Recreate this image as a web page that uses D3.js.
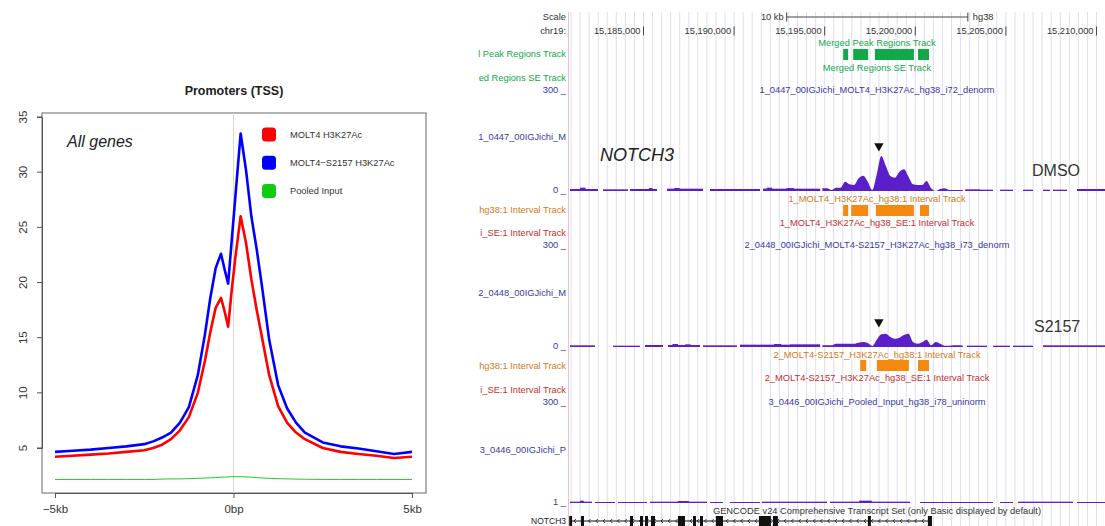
<!DOCTYPE html>
<html>
<head>
<meta charset="utf-8">
<script src="https://cdn.jsdelivr.net/npm/d3@7"></script>
<style>
body { margin: 0; background: #fff; }
svg { display: block; font-family: "Liberation Sans", Arial, sans-serif; }
</style>
</head>
<body>
<svg width="1105" height="526"></svg>
<script>
var svg = d3.select("svg");

// ---------- left: promoter (TSS) profile ----------
var binPos = [-5000,-4500,-4000,-3500,-3000,-2500,-2250,-2000,-1750,-1500,-1250,-1000,-800,-650,-500,-350,-250,-150,-50,50,200,350,500,650,800,1000,1250,1500,1750,2000,2500,3000,3500,4000,4500,5000];
var molt4 = [4.2,4.3,4.4,4.5,4.65,4.8,5.0,5.3,5.8,6.6,7.8,10.0,12.9,15.5,17.7,18.6,17.4,16.0,19.3,22.2,26.0,23.6,20.3,17.5,15.0,11.6,8.8,7.3,6.4,5.8,5.0,4.65,4.45,4.3,4.1,4.2];
var molt4S2157 = [4.65,4.75,4.85,5.0,5.15,5.35,5.6,5.95,6.4,7.3,8.7,11.6,15.3,18.6,21.3,22.6,21.2,19.9,23.8,27.7,33.5,30.2,26.0,23.0,19.6,14.8,10.7,8.6,7.3,6.4,5.5,5.15,4.95,4.7,4.45,4.65];
var pooledInput = [2.15,2.15,2.15,2.15,2.15,2.15,2.15,2.18,2.2,2.2,2.22,2.25,2.28,2.3,2.32,2.35,2.37,2.38,2.4,2.4,2.4,2.38,2.35,2.32,2.28,2.25,2.22,2.2,2.18,2.17,2.15,2.15,2.15,2.15,2.15,2.15];
var seriesNames = ["MOLT4 H3K27Ac", "MOLT4\u2212S2157 H3K27Ac", "Pooled Input"];
var seriesColors = ["#ff0000", "#0000ff", "#22cc22"];
var yTicks = [5, 10, 15, 20, 25, 30, 35];
var xTicks = [-5000, 0, 5000];
var xTickLabels = ["\u22125kb", "0bp", "5kb"];

var x = d3.scaleLinear().domain([-5000, 5000]).range([55, 412]);
var y = d3.scaleLinear().domain([5, 35]).range([448, 117]);
var boxL = x.invert(42), boxR = x.invert(426), boxT = y.invert(113), boxB = y.invert(493);

svg.append("text")
    .attr("x", 234).attr("y", 91).attr("dy", "0.35em")
    .attr("text-anchor", "middle")
    .style("font-size", "12.5px").style("font-weight", "bold").style("fill", "#222")
    .text("Promoters (TSS)");

svg.append("rect")
    .attr("x", x(boxL)).attr("y", y(boxT))
    .attr("width", x(boxR) - x(boxL)).attr("height", y(boxB) - y(boxT))
    .attr("fill", "none").attr("stroke", "#8a8a8a").attr("stroke-width", 1.3);

// TSS marker
svg.append("line")
    .attr("x1", x(0)).attr("x2", x(0)).attr("y1", y(boxT)).attr("y2", y(boxB))
    .attr("stroke", "#d8d8d8").attr("stroke-width", 1);

var yAxis = svg.append("g")
    .attr("transform", "translate(" + x(boxL) + ",0)")
    .call(d3.axisLeft(y).tickValues(yTicks).tickSize(5).tickPadding(4));
yAxis.selectAll(".tick").attr("transform", "translate(0,0)");
yAxis.selectAll(".tick line").attr("y1", function(d){ return y(d); }).attr("y2", function(d){ return y(d); });
yAxis.selectAll("text")
    .attr("transform", "rotate(-90)")
    .attr("x", function(d){ return -y(d); }).attr("y", -15).attr("dy", "0")
    .attr("text-anchor", "middle");

var xAxis = svg.append("g")
    .attr("transform", "translate(0," + y(boxB) + ")")
    .call(d3.axisBottom(x).tickValues(xTicks).tickSize(5).tickPadding(7)
        .tickFormat(function(d, i){ return xTickLabels[i]; }));

[yAxis, xAxis].forEach(function(a){
  a.select(".domain").attr("stroke", "#555");
  a.selectAll(".tick line").attr("stroke", "#555");
  a.selectAll("text").style("font-size", "11.5px").style("fill", "#333").style("font-family", "Liberation Sans, Arial, sans-serif");
});

var line = d3.line()
    .x(function(d, i){ return x(binPos[i]); })
    .y(function(d){ return y(d); });

svg.append("path").datum(pooledInput)
    .attr("d", line).attr("fill", "none")
    .attr("stroke", seriesColors[2]).attr("stroke-width", 1);
svg.append("path").datum(molt4)
    .attr("d", line).attr("fill", "none")
    .attr("stroke", seriesColors[0]).attr("stroke-width", 2.6).attr("stroke-linejoin", "round");
svg.append("path").datum(molt4S2157)
    .attr("d", line).attr("fill", "none")
    .attr("stroke", seriesColors[1]).attr("stroke-width", 2.6).attr("stroke-linejoin", "round");

svg.append("text")
    .attr("x", 67).attr("y", 141).attr("dy", "0.35em")
    .style("font-size", "16px").style("font-style", "italic").style("fill", "#222")
    .text("All genes");

var legend = svg.append("g").selectAll("g")
    .data(seriesNames).enter().append("g")
    .attr("transform", function(d, i){ return "translate(269," + (134.5 + i * 28.2) + ")"; });
legend.append("rect")
    .attr("x", -7).attr("y", -7).attr("width", 14).attr("height", 14).attr("rx", 3.5)
    .attr("fill", function(d, i){ return seriesColors[i] == "#22cc22" ? "#11cc11" : seriesColors[i]; });
legend.append("text")
    .attr("x", 21).attr("dy", "0.35em")
    .style("font-size", "9.3px").style("fill", "#333")
    .text(function(d){ return d; });

// ---------- right: genome browser view ----------
var viewStart = 15180944, viewEnd = 15210470;
var coordTicks = [15185000, 15190000, 15195000, 15200000, 15205000, 15210000];
var scaleBar = [15192900, 15202900];
var gridStep = 500;
var peakBinStart = 15194750, peakBinSize = 250;
var dmsoPeak = [8,8,3,10,10,28,20,18,38,46,28,3,50,105,75,45,40,58,65,43,20,18,18,30,8,0,6,8,3,3,3,3];
var s2157Peak = [5,5,5,10,10,10,10,10,13,15,12,3,22,38,40,30,25,28,36,40,15,10,14,22,5,15,10,4,4,5,5,4];
var dmsoBackground = [[15180944,15182489,6],[15181500,15181800,10],[15182765,15184145,5],[15184255,15185745,6],[15185300,15185500,9],[15186297,15188284,7],[15186700,15187000,9],[15188670,15191430,6],[15191595,15194750,7],[15191800,15192100,10],[15192900,15193300,9],
  [15202750,15203571,5],[15203571,15204289,4],[15204675,15205393,4],[15205945,15206497,4],[15207048,15207435,4],[15207600,15208373,4],[15208925,15210470,6]];
var s2157Background = [[15180944,15182320,5],[15183317,15184807,4],[15185083,15186076,6],[15186352,15188118,6],[15186600,15186900,9],[15187300,15187600,8],[15188284,15189057,5],[15189057,15190160,5],[15190326,15193085,7],[15192200,15192600,9],[15193085,15194750,8],
  [15202850,15203958,4],[15204289,15205227,4],[15205393,15206497,4],[15207048,15210470,5]];
var inputBackground = [[15180944,15182158,4],[15181500,15181700,7],[15182324,15183427,3],[15183593,15185193,3],[15185359,15188505,4],[15186900,15187500,6],[15188670,15189388,3],[15189774,15191430,3],[15191540,15193085,4],[15193085,15195127,4],[15195293,15199708,4],[15196900,15197600,7],[15200260,15204289,3],[15204675,15205393,3],[15205669,15208704,4],[15208925,15210470,3]];
var mergedPeaks = [[15196021,15196297],[15196573,15197401],[15197770,15199923],[15200150,15200757]];
var dmsoIntervals = [[15196021,15196297],[15196463,15197401],[15197825,15199923],[15200260,15200757]];
var s2157Intervals = [[15196960,15197290],[15197880,15199646],[15200150,15200757]];
var notch3Span = [15180944, 15200920];
var notch3Exons = [[15180900,15181060],[15181549,15181716],[15184255,15184421],[15184807,15184972],[15185083,15185248],[15185414,15185635],[15186904,15187290],[15187732,15187898],[15188118,15188284],[15188995,15189388],[15191369,15192031],[15192141,15192417],[15197384,15197550],[15200695,15200920]];
var summit = 15197990;

var gx = d3.scaleLinear().domain([viewStart, viewEnd]).range([570, 1105]);
var sig = d3.scaleLinear().domain([0, 300]).range([0, 100]);

var purple = "#5b1ecb", labelBlue = "#3b379f", green = "#12a84a", orange = "#f5880f",
    orangeText = "#d17a22", redText = "#c2302c";

function label(px, py, txt, color, anchor, size) {
  return svg.append("text")
      .attr("x", px).attr("y", py).attr("dy", "0.35em")
      .attr("text-anchor", anchor || "start")
      .style("font-size", (size || 9.3) + "px").style("fill", color)
      .text(txt);
}

// grid lines every 500bp
svg.append("g").selectAll("line")
    .data(d3.range(Math.ceil(viewStart / gridStep) * gridStep, viewEnd, gridStep))
    .enter().append("line")
    .attr("x1", function(d){ return gx(d); }).attr("x2", function(d){ return gx(d); })
    .attr("y1", 12).attr("y2", 526)
    .attr("stroke", "#dedef3").attr("stroke-width", 1);
svg.append("line")
    .attr("x1", 568.5).attr("x2", 568.5).attr("y1", 12).attr("y2", 526)
    .attr("stroke", "#f2c2c2").attr("stroke-width", 1);

// ruler
label(566, 17, "Scale", "#333", "end");
label(566, 31, "chr19:", "#333", "end");
label(gx(scaleBar[0]) - 3, 17, "10 kb", "#333", "end");
label(gx(scaleBar[1]) + 5, 17, "hg38", "#333", "start");
svg.append("line")
    .attr("x1", gx(scaleBar[0])).attr("x2", gx(scaleBar[1])).attr("y1", 17).attr("y2", 17)
    .attr("stroke", "#444");
svg.append("g").selectAll("line").data(scaleBar).enter().append("line")
    .attr("x1", function(d){ return gx(d); }).attr("x2", function(d){ return gx(d); })
    .attr("y1", 12.5).attr("y2", 21.5).attr("stroke", "#444");
var ct = svg.append("g").selectAll("g").data(coordTicks).enter().append("g");
ct.append("line")
    .attr("x1", function(d){ return gx(d); }).attr("x2", function(d){ return gx(d); })
    .attr("y1", 26.5).attr("y2", 35.5).attr("stroke", "#444");
ct.append("text")
    .attr("x", function(d){ return gx(d) - 3; }).attr("y", 31).attr("dy", "0.35em")
    .attr("text-anchor", "end").style("font-size", "9.3px").style("fill", "#333")
    .text(function(d){ return d3.format(",")(d); });

// merged region tracks
label(877, 43, "Merged Peak Regions Track", green, "middle");
label(877, 68, "Merged Regions SE Track", green, "middle");
label(566, 54, "l Peak Regions Track", green, "end");
label(566, 78, "ed Regions SE Track", green, "end");
svg.append("g").selectAll("rect").data(mergedPeaks).enter().append("rect")
    .attr("x", function(d){ return gx(d[0]); }).attr("width", function(d){ return gx(d[1]) - gx(d[0]); })
    .attr("y", 49).attr("height", 11).attr("fill", green);

function signalTrack(base, peak, background) {
  var g = svg.append("g");
  g.selectAll("rect").data(background).enter().append("rect")
      .attr("x", function(d){ return gx(d[0]); })
      .attr("width", function(d){ return gx(d[1]) - gx(d[0]); })
      .attr("y", function(d){ return base - sig(d[2]); })
      .attr("height", function(d){ return sig(d[2]); })
      .attr("fill", purple);
  if (!peak.length) return;
  var area = d3.area()
      .x(function(d, i){ return gx(peakBinStart + (i + 0.5) * peakBinSize); })
      .y0(base)
      .y1(function(d){ return base - sig(d); })
      .curve(d3.curveMonotoneX);
  g.append("path").datum(peak).attr("d", area).attr("fill", purple);
}

function intervals(top, data) {
  svg.append("g").selectAll("rect").data(data).enter().append("rect")
      .attr("x", function(d){ return gx(d[0]); }).attr("width", function(d){ return gx(d[1]) - gx(d[0]); })
      .attr("y", top).attr("height", 11).attr("fill", orange);
}

var tri = d3.symbol().type(d3.symbolTriangle).size(38);

// DMSO
label(566, 90, "300 _", labelBlue, "end");
label(877, 90, "1_0447_00IGJichi_MOLT4_H3K27Ac_hg38_i72_denorm", labelBlue, "middle");
label(566, 137, "1_0447_00IGJichi_M", labelBlue, "end");
label(566, 190, "0 _", labelBlue, "end");
signalTrack(191, dmsoPeak, dmsoBackground);
svg.append("path").attr("d", tri).attr("transform", "translate(" + gx(summit) + ",146) rotate(180)").attr("fill", "#111");
svg.append("text").attr("x", 600).attr("y", 155).attr("dy", "0.35em")
    .style("font-size", "18px").style("font-style", "italic").style("fill", "#222").text("NOTCH3");
label(1032, 170, "DMSO", "#333", "start", 16);
label(877, 199, "1_MOLT4_H3K27Ac_hg38:1 Interval Track", orangeText, "middle");
intervals(205, dmsoIntervals);
label(877, 223, "1_MOLT4_H3K27Ac_hg38_SE:1 Interval Track", redText, "middle");
label(566, 210, "hg38:1 Interval Track", orangeText, "end");
label(566, 233, "i_SE:1 Interval Track", redText, "end");

// S2157
label(566, 245, "300 _", labelBlue, "end");
label(877, 245, "2_0448_00IGJichi_MOLT4-S2157_H3K27Ac_hg38_i73_denorm", labelBlue, "middle");
label(566, 293, "2_0448_00IGJichi_M", labelBlue, "end");
label(566, 346, "0 _", labelBlue, "end");
signalTrack(347, s2157Peak, s2157Background);
svg.append("path").attr("d", tri).attr("transform", "translate(" + gx(summit) + ",322) rotate(180)").attr("fill", "#111");
label(1034, 326, "S2157", "#333", "start", 16);
label(877, 355, "2_MOLT4-S2157_H3K27Ac_hg38:1 Interval Track", orangeText, "middle");
intervals(360, s2157Intervals);
label(877, 378, "2_MOLT4-S2157_H3K27Ac_hg38_SE:1 Interval Track", redText, "middle");
label(566, 366, "hg38:1 Interval Track", orangeText, "end");
label(566, 390, "i_SE:1 Interval Track", redText, "end");

// pooled input
label(566, 402, "300 _", labelBlue, "end");
label(877, 402, "3_0446_00IGJichi_Pooled_Input_hg38_i78_uninorm", labelBlue, "middle");
label(566, 450, "3_0446_00IGJichi_P", labelBlue, "end");
label(566, 502, "1 _", labelBlue, "end");
signalTrack(503, [], inputBackground);

// gene track
label(877, 511, "GENCODE v24 Comprehensive Transcript Set (only Basic displayed by default)", "#333", "middle");
label(566, 521, "NOTCH3", "#222", "end", 8.5);
svg.append("line")
    .attr("x1", gx(notch3Span[0])).attr("x2", gx(notch3Span[1])).attr("y1", 521).attr("y2", 521)
    .attr("stroke", "#111").attr("stroke-width", 1);
svg.append("g").selectAll("path")
    .data(d3.range(notch3Span[0] + 250, notch3Span[1], 400))
    .enter().append("path")
    .attr("d", function(d){ var px = gx(d); return "M" + (px + 1.5) + ",519 L" + (px - 0.5) + ",521 L" + (px + 1.5) + ",523"; })
    .attr("fill", "none").attr("stroke", "#111").attr("stroke-width", 0.8);
svg.append("g").selectAll("rect").data(notch3Exons).enter().append("rect")
    .attr("x", function(d){ return gx(d[0]); }).attr("width", function(d){ return Math.max(2, gx(d[1]) - gx(d[0])); })
    .attr("y", 516).attr("height", 10).attr("fill", "#111");
</script>
</body>
</html>
